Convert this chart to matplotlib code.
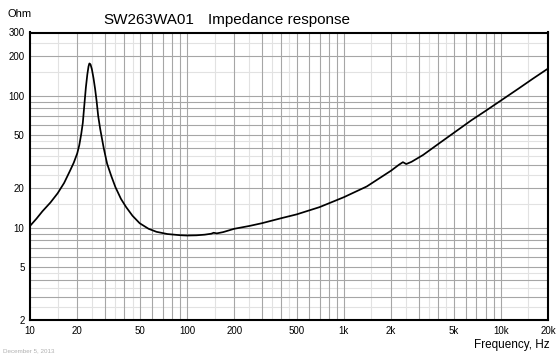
import numpy as np
import matplotlib
matplotlib.use('Agg')
import matplotlib.pyplot as plt

plt.rcParams['font.family'] = ['Liberation Sans', 'DejaVu Sans']

# impedance curve
freq_hz = [10, 11, 12, 13.5, 15, 16.5, 18, 19, 20, 20.6, 21.2, 21.7, 22.2,
           22.7, 23.2, 23.6, 23.9, 24.3, 24.8, 25.4, 26, 26.6, 27.2, 28,
           29.5, 31, 33, 35, 38, 41, 45, 50, 57, 64, 75, 90, 100, 115, 130,
           143, 148, 155, 170, 200, 250, 300, 400, 500, 700, 1000, 1400, 2000,
           2250, 2380, 2500, 2700, 3200, 4000, 5000, 6500, 8000, 10000, 13000,
           16000, 20000]
impedance_ohm = [10.3, 11.7, 13.3, 15.5, 18.2, 21.8, 27, 31, 36.5, 42, 51,
                 62, 85, 115, 145, 166, 175, 172, 158, 135, 112, 90, 70, 56,
                 40, 30.5, 24.5, 20.3, 16.5, 14.3, 12.3, 10.8, 9.8, 9.3, 8.95,
                 8.77, 8.72, 8.75, 8.85, 9.0, 9.15, 9.05, 9.25, 9.8, 10.3,
                 10.8, 11.8, 12.6, 14.3, 17, 20.5, 27, 30, 31.3, 30.3, 31.5,
                 35.5, 43, 52, 65, 76.5, 91.5, 113, 134, 160]

x_ticks = [10, 20, 50, 100, 200, 500, 1000, 2000, 5000, 10000, 20000]
x_labels = ['10', '20', '50', '100', '200', '500', '1k', '2k', '5k', '10k', '20k']
y_ticks = [2, 5, 10, 20, 50, 100, 200, 300]
y_labels = ['2', '5', '10', '20', '50', '100', '200', '300']

fig = plt.figure(figsize=(5.6, 3.56), dpi=100)
ax = fig.add_axes([30 / 560, 1 - 320 / 356, 518 / 560, 287.5 / 356])

x_min, x_max = 10, 20000
y_min, y_max = 2, 300

# grid: darker lines on 1..9 per decade, faint lines on the halves
major_col = '#a6a6a6'
minor_col = '#e2e2e2'
for dec in [10, 100, 1000, 10000]:
    for m in range(1, 10):
        v = dec * m
        if x_min < v < x_max:
            ax.axvline(v, color=major_col, lw=0.8, zorder=1)
    for m in [1.5, 2.5, 3.5, 4.5]:
        v = dec * m
        if x_min < v < x_max:
            ax.axvline(v, color=minor_col, lw=0.8, zorder=0)
for dec in [1, 10, 100]:
    for m in range(1, 10):
        v = dec * m
        if y_min < v < y_max:
            ax.axhline(v, color=major_col, lw=0.8, zorder=1)
    for m in [1.5, 2.5, 3.5, 4.5]:
        v = dec * m
        if y_min < v < y_max:
            ax.axhline(v, color=minor_col, lw=0.8, zorder=0)

ax.plot(freq_hz, impedance_ohm, color='black', lw=1.25, zorder=3)

ax.set_xscale('log')
ax.set_yscale('log')
ax.set_xlim(x_min, x_max)
ax.set_ylim(y_min, y_max)
ax.minorticks_off()
ax.set_xticks(x_ticks)
ax.set_xticklabels(x_labels)
ax.set_yticks(y_ticks)
ax.set_yticklabels(y_labels)
ax.tick_params(length=0, labelsize=7, pad=4)
for s in ax.spines.values():
    s.set_linewidth(1.5)
    s.set_color('black')
    s.set_zorder(4)

fig.text(103 / 560, 1 - 24 / 356, 'SW263WA01', fontsize=11, ha='left', va='baseline')
fig.text(208 / 560, 1 - 24 / 356, 'Impedance response', fontsize=11, ha='left', va='baseline')
fig.text(8 / 560, 1 - 17 / 356, 'Ohm', fontsize=8, ha='left', va='baseline')
fig.text(550 / 560, 1 - 348 / 356, 'Frequency, Hz', fontsize=8.5, ha='right', va='baseline')
fig.text(3 / 560, 1 - 352 / 356, 'December 5, 2013', fontsize=4.5, color='#b0b0b0',
         ha='left', va='baseline')

fig.savefig('out.png', dpi=100)
